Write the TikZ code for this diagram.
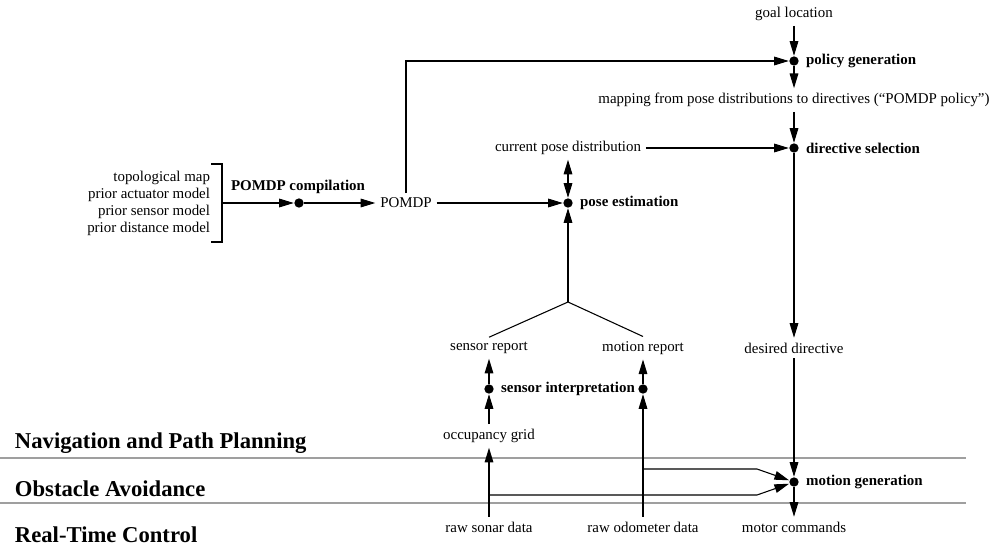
\documentclass[tikz,border=0pt]{standalone}
\usepackage{fontspec}
\setmainfont{Liberation Serif}
\usetikzlibrary{arrows.meta,positioning}

\begin{document}
\begin{tikzpicture}[
		x=0.75pt, y=-0.75pt, line width=0.8pt,
		every node/.style={font=\fontsize{11.2}{13}\selectfont},
		dot/.style={circle, fill, inner sep=0pt, minimum size=7pt},
		proc/.style={anchor=west, font=\fontsize{11.2}{13}\selectfont\bfseries},
		layer/.style={anchor=west, font=\fontsize{17}{20}\selectfont\bfseries},
		flow/.style={-{Triangle[length=11pt,width=6.5pt]}},
		twoway/.style={{Triangle[length=11pt,width=6.5pt]}-{Triangle[length=11pt,width=6.5pt]}},
		sep/.style={gray!75, line width=1pt}
	]
	\useasboundingbox (0,0) rectangle (995,546);

	\draw[sep] (0,458) -- (966,458);
	\draw[sep] (0,503) -- (966,503);
	\node[layer] at (10,443) {Navigation and Path Planning};
	\node[layer] at (10,489) {Obstacle Avoidance};
	\node[layer] at (10,535) {Real-Time Control};

	\node (goal) at (794,14) {goal location};
	\node[dot] (pgen) at (794,61) {};
	\node[proc, right=1.5pt of pgen] {policy generation};
	\node (map) at (794,100) {mapping from pose distributions to directives (``POMDP policy'')};
	\node[dot] (dsel) at (794,148) {};
	\node[proc, right=1.5pt of dsel] {directive selection};
	\node (desired) at (794,348) {desired directive};
	\node[dot] (mgen) at (794,482) {};
	\node[proc, right=1.5pt of mgen] {motion generation};
	\node (motor) at (794,527) {motor commands};

	\node[align=right, anchor=east, font=\fontsize{11.2}{12.75}\selectfont] (priors) at (215,203)
		{topological map\\prior actuator model\\prior sensor model\\prior distance model};
	\draw (211,164) -- (222,164) -- (222,242) -- (211,242);
	\coordinate (brk) at (222,203);
	\node[dot] (pcomp) at (299,203) {};
	\node[proc, anchor=center] at (298,187) {POMDP compilation};
	\node (pomdp) at (406,203) {POMDP};

	\node (cpd) at (568,148) {current pose distribution};
	\node[dot] (pest) at (568,203) {};
	\node[proc, right=1.5pt of pest] {pose estimation};
	\coordinate (fork) at (568,302);
	\node (srep) at (489,348) {sensor report};
	\node (mrep) at (643,348) {motion report};
	\node[dot] (sint1) at (489,389) {};
	\node[dot] (sint2) at (643,389) {};
	\node[proc, anchor=center] at (568,389) {sensor interpretation};
	\node (occ) at (489,436) {occupancy grid};
	\node (sonar) at (489,527) {raw sonar data};
	\node (odo) at (643,527) {raw odometer data};
	\coordinate (odoturn) at (757,469);
	\coordinate (sonturn) at (757,495);

	\draw[flow] (brk) -- (pcomp);
	\draw[flow] (pcomp) -- (pomdp);
	\draw[flow] (pomdp) -- (pest);
	\draw[flow] (pomdp.north) |- (pgen);
	\draw[flow] (goal) -- (pgen);
	\draw[flow] (pgen) -- (map);
	\draw[flow] (map) -- (dsel);
	\draw[flow] (cpd) -- (dsel);
	\draw[twoway] (cpd) -- (pest);
	\draw[flow] (dsel) -- (desired);
	\draw[flow] (desired) -- (mgen);
	\draw[flow] (mgen) -- (motor);

	\draw (srep.north) -- (fork) -- (mrep.north);
	\draw[flow] (fork) -- (pest);
	\draw[flow] (sint1) -- (srep);
	\draw[flow] (occ) -- (sint1);
	\draw[flow] (sint2) -- (mrep);
	\draw[flow] (odo) -- (sint2);
	\draw[flow] (sonar) -- (occ);
	\draw[flow] (odo.north |- odoturn) -- (odoturn) -- (mgen);
	\draw[flow] (sonar.north |- sonturn) -- (sonturn) -- (mgen);
\end{tikzpicture}
\end{document}
